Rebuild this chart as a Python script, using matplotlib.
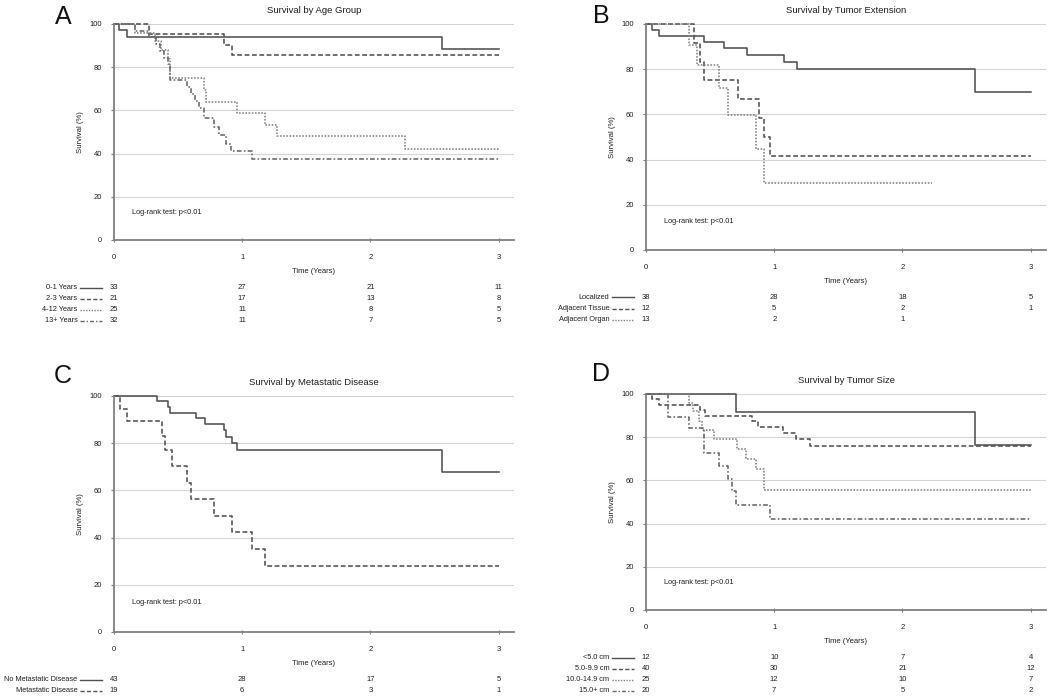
import matplotlib
matplotlib.use("Agg")
import matplotlib.pyplot as plt
from matplotlib.transforms import blended_transform_factory

plt.rcParams["font.family"] = ["Liberation Sans", "DejaVu Sans"]

W, H = 1050, 697

# ---- A: age group
age_labels = ["0-1 Years", "2-3 Years", "4-12 Years", "13+ Years"]
age_t = [
    [0, 0.04, 0.10, 2.56, 3.0],
    [0, 0.27, 0.86, 0.92, 3.0],
    [0, 0.16, 0.32, 0.37, 0.42, 0.44, 0.70, 0.72, 0.96, 1.18, 1.27, 2.27, 3.0],
    [0, 0.16, 0.27, 0.33, 0.36, 0.39, 0.42, 0.44, 0.57, 0.60, 0.63, 0.66, 0.70,
     0.78, 0.82, 0.87, 0.91, 1.08, 3.0],
]
age_s = [
    [100, 97.0, 93.9, 88.4, 88.4],
    [100, 95.2, 90.5, 85.7, 85.7],
    [100, 96.0, 92.0, 88.0, 84.0, 75.0, 69.3, 64.1, 58.8, 53.4, 48.1, 42.1, 42.1],
    [100, 96.9, 93.8, 90.6, 87.5, 84.4, 81.3, 74.2, 70.9, 67.7, 64.5, 61.3, 56.4,
     52.4, 48.4, 44.6, 41.0, 37.3, 37.3],
]
age_risk = [[33, 27, 21, 11], [21, 17, 13, 8], [25, 11, 8, 5], [32, 11, 7, 5]]

# ---- B: tumor extension
ext_labels = ["Localized", "Adjacent Tissue", "Adjacent Organ"]
ext_t = [
    [0, 0.044, 0.10, 0.45, 0.61, 0.785, 1.076, 1.18, 2.566, 3.0],
    [0, 0.377, 0.42, 0.45, 0.72, 0.884, 0.92, 0.967, 3.0],
    [0, 0.338, 0.40, 0.572, 0.642, 0.858, 0.92, 2.233],
]
ext_s = [
    [100, 97.4, 94.7, 92.0, 89.2, 86.3, 83.1, 80.0, 70.0, 70.0],
    [100, 91.7, 83.3, 75.0, 66.7, 58.3, 50.0, 41.7, 41.7],
    [100, 90.9, 81.8, 71.6, 59.7, 44.8, 29.8, 29.8],
]
ext_risk = [[38, 28, 18, 5], [12, 5, 2, 1], [13, 2, 1]]

# ---- C: metastatic disease
met_labels = ["No Metastatic Disease", "Metastatic Disease"]
met_t = [
    [0, 0.338, 0.42, 0.44, 0.64, 0.712, 0.858, 0.876, 0.92, 0.96, 2.56, 3.0],
    [0, 0.044, 0.099, 0.374, 0.40, 0.452, 0.572, 0.603, 0.78, 0.92, 1.076, 1.175, 3.0],
]
met_s = [
    [100, 97.7, 95.3, 93.0, 90.6, 88.1, 85.4, 82.7, 80.0, 77.3, 67.7, 67.7],
    [100, 94.7, 89.5, 83.2, 77.0, 70.4, 63.3, 56.3, 49.3, 42.2, 35.2, 28.1, 28.1],
]
met_risk = [[43, 28, 17, 5], [19, 6, 3, 1]]

# ---- D: tumor size
size_labels = ["<5.0 cm", "5.0-9.9 cm", "10.0-14.9 cm", "15.0+ cm"]
size_t = [
    [0, 0.70, 2.566, 3.0],
    [0, 0.044, 0.10, 0.42, 0.46, 0.824, 0.876, 1.07, 1.167, 1.28, 3.0],
    [0, 0.338, 0.37, 0.416, 0.44, 0.53, 0.707, 0.777, 0.858, 0.92, 3.0],
    [0, 0.169, 0.335, 0.455, 0.572, 0.637, 0.673, 0.70, 0.967, 3.0],
]
size_s = [
    [100, 91.7, 76.4, 76.4],
    [100, 97.5, 95.0, 92.5, 90.0, 87.5, 84.9, 82.0, 79.0, 76.1, 76.1],
    [100, 96.0, 92.0, 87.5, 83.3, 79.2, 74.5, 69.7, 65.2, 55.7, 55.7],
    [100, 89.5, 84.2, 72.9, 66.8, 60.6, 54.9, 48.5, 42.2, 42.2],
]
size_risk = [[12, 10, 7, 4], [40, 30, 21, 12], [25, 12, 10, 7], [20, 7, 5, 2]]

risk_times = [0, 1, 2, 3]

styles = [
    ("-", "#505050"),
    ((0, (3, 1.6)), "#505050"),
    ((0, (1, 1)), "#808080"),
    ((0, (3, 1.4, 1, 1.4)), "#666666"),
]
TXT = "#1e1e1e"


def px_rect(left, top, right, bottom):
    return [left / W, 1 - bottom / H, (right - left) / W, (bottom - top) / H]


def draw_panel(fig, letter, title, rect, times, survs, labels, risk, letter_xy):
    left, top, right, bottom = rect
    ax = fig.add_axes(px_rect(left, top, right, bottom))
    ax.set_xlim(0, 3.12)
    ax.set_ylim(0, 100)
    ax.set_xticks([0, 1, 2, 3])
    ax.set_yticks([0, 20, 40, 60, 80, 100])
    ax.grid(axis="y", color="#d4d4d4", lw=0.8)
    ax.set_axisbelow(True)
    for sp in ["top", "right"]:
        ax.spines[sp].set_visible(False)
    for sp in ["left", "bottom"]:
        ax.spines[sp].set_color("#808080")
        ax.spines[sp].set_linewidth(1.3)
    ax.tick_params(axis="y", length=2.5, pad=6, labelsize=5.5, color="#808080", labelcolor=TXT)
    ax.tick_params(axis="x", length=3, direction="inout", pad=8.5, labelsize=5.5,
                   color="#808080", labelcolor=TXT)
    ax.set_ylabel("Survival (%)", fontsize=5.6, labelpad=4, color=TXT)
    ax.set_xlabel("Time (Years)", fontsize=5.5, labelpad=5, color=TXT)
    ax.set_title(title, fontsize=6.8, pad=8, color=TXT)

    for t, s, (ls, c) in zip(times, survs, styles):
        ax.step(t, s, where="post", color=c, lw=1.15, ls=ls, clip_on=False)

    ax.text(0.14, 12.5, "Log-rank test: p<0.01", fontsize=5.3, color=TXT,
            va="center", ha="left")

    fig.text(letter_xy[0] / W, 1 - letter_xy[1] / H, letter, fontsize=18,
             ha="center", va="center", color="#111111")

    trans = blended_transform_factory(ax.transData, fig.transFigure)
    for i, (lab, row) in enumerate(zip(labels, risk)):
        y = 1 - (bottom + 47.5 + 11 * i) / H
        ls, c = styles[i]
        ax.text(-0.285, y, lab, transform=trans, ha="right", va="center",
                fontsize=5.3, color=TXT)
        ax.plot([-0.265, -0.09], [y, y], transform=trans, clip_on=False,
                ls=ls, color=c, lw=1.0)
        for xt, n in zip(risk_times, row):
            ax.text(xt, y, str(n), transform=trans, ha="center", va="center",
                    fontsize=5.5, color=TXT)
    return ax


fig = plt.figure(figsize=(W / 100, H / 100), dpi=100)

draw_panel(fig, "A", "Survival by Age Group", (114, 24, 514, 240),
           age_t, age_s, age_labels, age_risk, (63, 17))
draw_panel(fig, "B", "Survival by Tumor Extension", (646, 24, 1046, 250),
           ext_t, ext_s, ext_labels, ext_risk, (601, 16))
draw_panel(fig, "C", "Survival by Metastatic Disease", (114, 396, 514, 632),
           met_t, met_s, met_labels, met_risk, (63, 376))
draw_panel(fig, "D", "Survival by Tumor Size", (646, 394, 1046, 610),
           size_t, size_s, size_labels, size_risk, (601, 374))

fig.savefig("out.png", dpi=100)
